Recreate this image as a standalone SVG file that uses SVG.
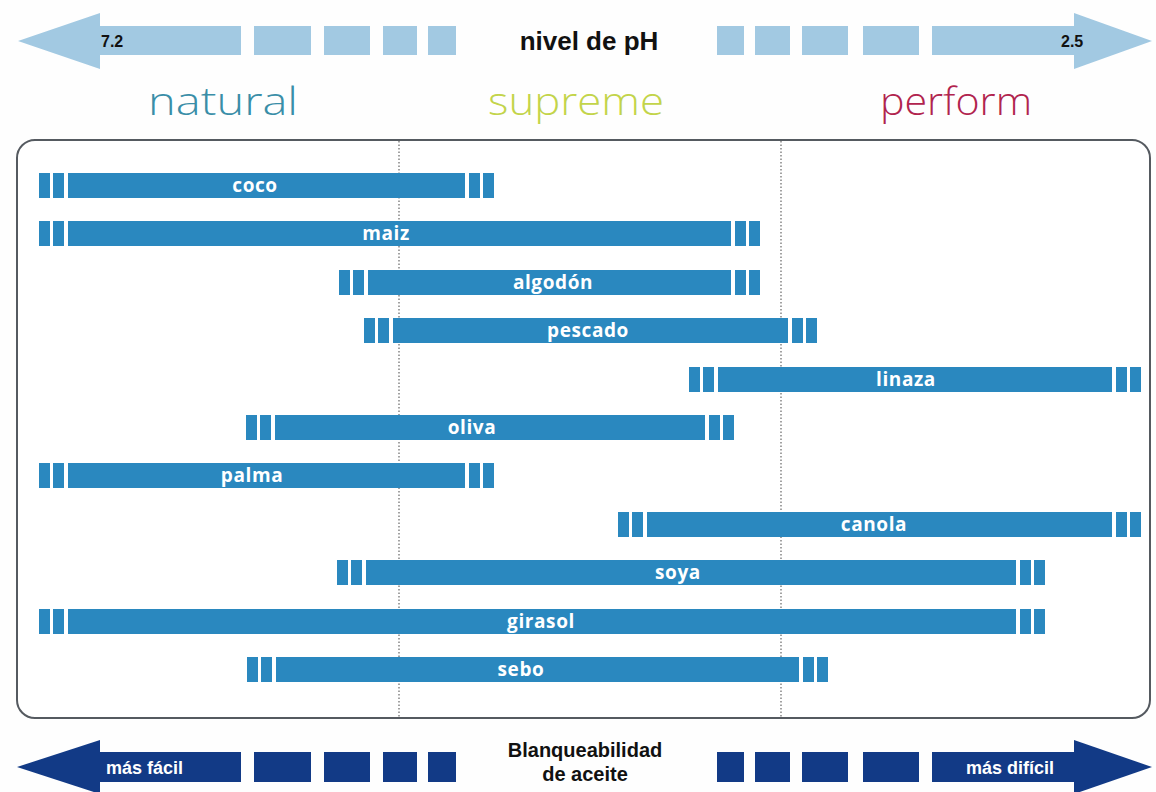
<svg xmlns="http://www.w3.org/2000/svg" width="1156" height="792" viewBox="0 0 1156 792">
<style>
.lb{fill:#a2c9e2}
.nv{fill:#123a86}
.bar{fill:#2a88bf}
.bl{font-family:"Open Sans","DejaVu Sans",sans-serif;font-weight:700;font-size:19px;letter-spacing:0.6px;fill:#ffffff;text-anchor:middle}
.hd{font-family:"Liberation Sans",Arial,sans-serif;font-weight:700;fill:#111111}
.wt{font-family:"Liberation Sans",Arial,sans-serif;font-weight:700;fill:#ffffff;font-size:18px}
.brand{font-family:"Open Sans","Lato",sans-serif;font-weight:300;font-size:38px}
.dot{stroke:#666666;stroke-width:1.2;stroke-dasharray:1.5 2;fill:none}
</style>
<rect width="1156" height="792" fill="#fefefe"/>
<g id="ph-scale">
<polygon class="lb" points="18,41 100,13 100,69"/>
<rect class="lb" x="99" y="26" width="142" height="29"/>
<rect class="lb" x="254" y="26" width="57" height="29"/>
<rect class="lb" x="324" y="26" width="46" height="29"/>
<rect class="lb" x="383" y="26" width="34" height="29"/>
<rect class="lb" x="428" y="26" width="28" height="29"/>
<rect class="lb" x="717" y="26" width="27" height="29"/>
<rect class="lb" x="755" y="26" width="35" height="29"/>
<rect class="lb" x="802" y="26" width="46" height="29"/>
<rect class="lb" x="863" y="26" width="56" height="29"/>
<rect class="lb" x="932" y="26" width="143" height="29"/>
<polygon class="lb" points="1074,13 1152,41 1074,69"/>
<text class="hd" x="101" y="47" font-size="16">7.2</text>
<text class="hd" x="1061" y="47" font-size="16">2.5</text>
<text class="hd" x="589" y="50" font-size="26" text-anchor="middle">nivel de pH</text>
</g>
<g id="brands">
<text class="brand" x="148" y="115" fill="#3a8ea8" textLength="150" lengthAdjust="spacingAndGlyphs">natural</text>
<text class="brand" x="488" y="115" fill="#c3d44a" textLength="176" lengthAdjust="spacingAndGlyphs">supreme</text>
<text class="brand" x="880" y="115" fill="#b1244e" textLength="152" lengthAdjust="spacingAndGlyphs">perform</text>
</g>
<g id="frame">
<rect x="17" y="140" width="1133" height="578" rx="18" fill="#ffffff" stroke="#555a60" stroke-width="2"/>
<line class="dot" x1="399" y1="141" x2="399" y2="717"/>
<line class="dot" x1="781" y1="141" x2="781" y2="717"/>
</g>
<g id="bar-coco">
<rect class="bar" x="39" y="173" width="11" height="25"/><rect class="bar" x="53" y="173" width="11" height="25"/><rect class="bar" x="68" y="173" width="397" height="25"/><rect class="bar" x="469" y="173" width="11" height="25"/><rect class="bar" x="483" y="173" width="11" height="25"/>
<text class="bl" x="255" y="192">coco</text>
</g>
<g id="bar-maiz">
<rect class="bar" x="39" y="221" width="11" height="25"/><rect class="bar" x="53" y="221" width="11" height="25"/><rect class="bar" x="68" y="221" width="663" height="25"/><rect class="bar" x="735" y="221" width="11" height="25"/><rect class="bar" x="749" y="221" width="11" height="25"/>
<text class="bl" x="386" y="240">maiz</text>
</g>
<g id="bar-algodon">
<rect class="bar" x="339" y="270" width="11" height="25"/><rect class="bar" x="353" y="270" width="11" height="25"/><rect class="bar" x="368" y="270" width="363" height="25"/><rect class="bar" x="735" y="270" width="11" height="25"/><rect class="bar" x="749" y="270" width="11" height="25"/>
<text class="bl" x="553" y="289">algodón</text>
</g>
<g id="bar-pescado">
<rect class="bar" x="364" y="318" width="11" height="25"/><rect class="bar" x="378" y="318" width="11" height="25"/><rect class="bar" x="393" y="318" width="395" height="25"/><rect class="bar" x="792" y="318" width="11" height="25"/><rect class="bar" x="806" y="318" width="11" height="25"/>
<text class="bl" x="588" y="337">pescado</text>
</g>
<g id="bar-linaza">
<rect class="bar" x="689" y="367" width="11" height="25"/><rect class="bar" x="703" y="367" width="11" height="25"/><rect class="bar" x="718" y="367" width="394" height="25"/><rect class="bar" x="1116" y="367" width="11" height="25"/><rect class="bar" x="1130" y="367" width="11" height="25"/>
<text class="bl" x="906" y="386">linaza</text>
</g>
<g id="bar-oliva">
<rect class="bar" x="246" y="415" width="11" height="25"/><rect class="bar" x="260" y="415" width="11" height="25"/><rect class="bar" x="275" y="415" width="430" height="25"/><rect class="bar" x="709" y="415" width="11" height="25"/><rect class="bar" x="723" y="415" width="11" height="25"/>
<text class="bl" x="472" y="434">oliva</text>
</g>
<g id="bar-palma">
<rect class="bar" x="39" y="463" width="11" height="25"/><rect class="bar" x="53" y="463" width="11" height="25"/><rect class="bar" x="68" y="463" width="397" height="25"/><rect class="bar" x="469" y="463" width="11" height="25"/><rect class="bar" x="483" y="463" width="11" height="25"/>
<text class="bl" x="252" y="482">palma</text>
</g>
<g id="bar-canola">
<rect class="bar" x="618" y="512" width="11" height="25"/><rect class="bar" x="632" y="512" width="11" height="25"/><rect class="bar" x="647" y="512" width="465" height="25"/><rect class="bar" x="1116" y="512" width="11" height="25"/><rect class="bar" x="1130" y="512" width="11" height="25"/>
<text class="bl" x="874" y="531">canola</text>
</g>
<g id="bar-soya">
<rect class="bar" x="337" y="560" width="11" height="25"/><rect class="bar" x="351" y="560" width="11" height="25"/><rect class="bar" x="366" y="560" width="650" height="25"/><rect class="bar" x="1020" y="560" width="11" height="25"/><rect class="bar" x="1034" y="560" width="11" height="25"/>
<text class="bl" x="678" y="579">soya</text>
</g>
<g id="bar-girasol">
<rect class="bar" x="39" y="609" width="11" height="25"/><rect class="bar" x="53" y="609" width="11" height="25"/><rect class="bar" x="68" y="609" width="948" height="25"/><rect class="bar" x="1020" y="609" width="11" height="25"/><rect class="bar" x="1034" y="609" width="11" height="25"/>
<text class="bl" x="541" y="628">girasol</text>
</g>
<g id="bar-sebo">
<rect class="bar" x="247" y="657" width="11" height="25"/><rect class="bar" x="261" y="657" width="11" height="25"/><rect class="bar" x="276" y="657" width="523" height="25"/><rect class="bar" x="803" y="657" width="11" height="25"/><rect class="bar" x="817" y="657" width="11" height="25"/>
<text class="bl" x="521" y="676">sebo</text>
</g>
<g id="bleach-scale">
<polygon class="nv" points="17,767 100,740 100,794"/>
<rect class="nv" x="99" y="752" width="142" height="30"/>
<rect class="nv" x="254" y="752" width="57" height="30"/>
<rect class="nv" x="324" y="752" width="46" height="30"/>
<rect class="nv" x="383" y="752" width="34" height="30"/>
<rect class="nv" x="428" y="752" width="28" height="30"/>
<rect class="nv" x="717" y="752" width="27" height="30"/>
<rect class="nv" x="755" y="752" width="35" height="30"/>
<rect class="nv" x="802" y="752" width="46" height="30"/>
<rect class="nv" x="863" y="752" width="56" height="30"/>
<rect class="nv" x="932" y="752" width="143" height="30"/>
<polygon class="nv" points="1074,740 1152,767 1074,794"/>
<text class="wt" x="106" y="774">más fácil</text>
<text class="wt" x="1010" y="774" text-anchor="middle">más difícil</text>
<text class="hd" x="585" y="757" font-size="20" text-anchor="middle">Blanqueabilidad</text>
<text class="hd" x="585" y="781" font-size="20" text-anchor="middle">de aceite</text>
</g>
</svg>
